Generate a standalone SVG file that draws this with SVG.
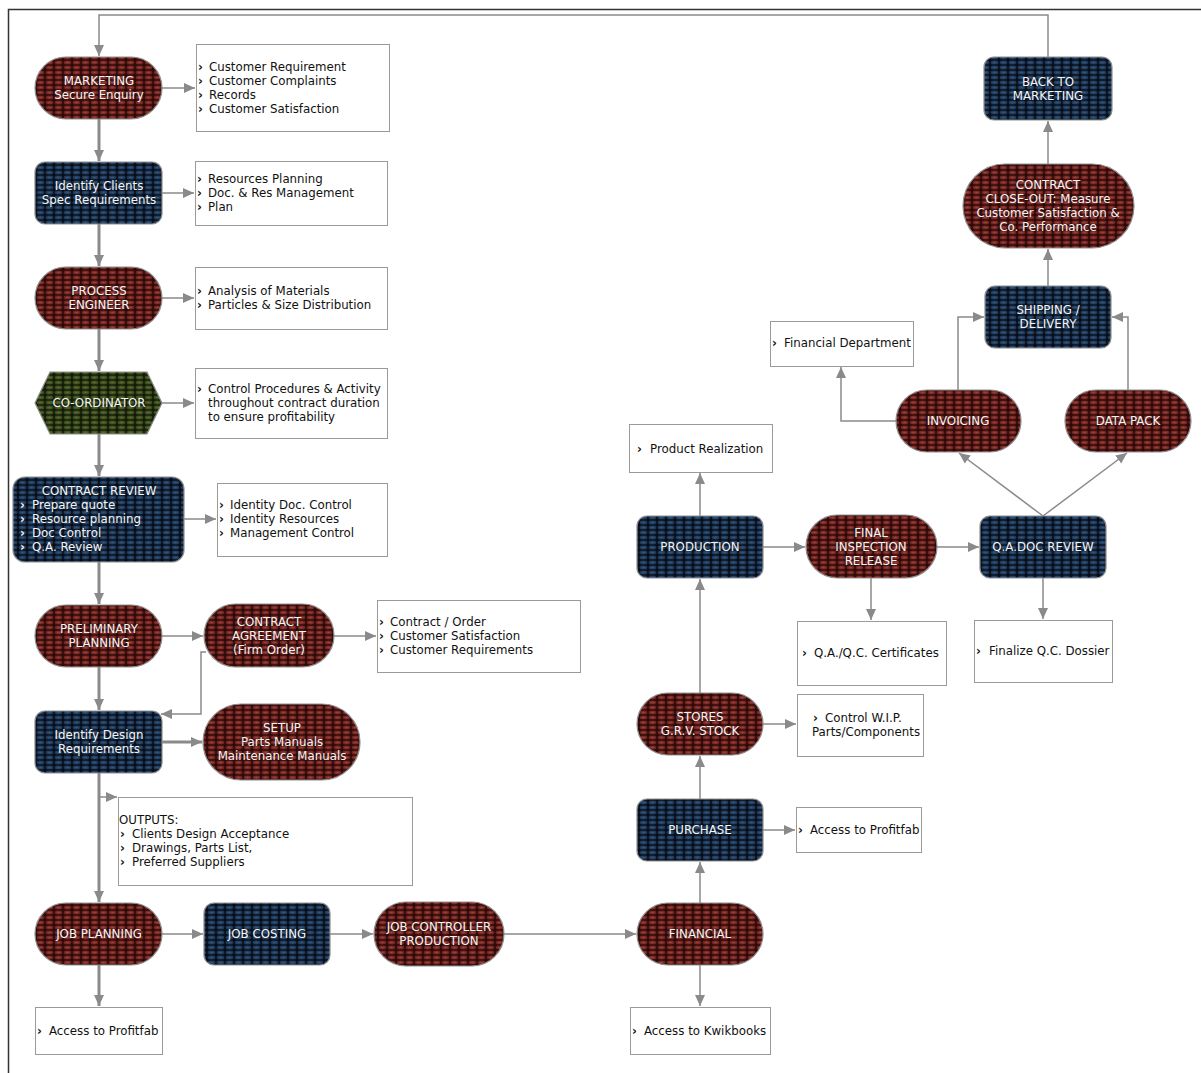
<svg xmlns="http://www.w3.org/2000/svg" width="1201" height="1073" viewBox="0 0 1201 1073">
<defs>
<style>
text{font-family:"DejaVu Sans","Verdana",sans-serif;font-size:11.8px}
.nt{fill:#f4f4f4;text-anchor:middle}
.nl{fill:#f4f4f4}
.bt{fill:#111}
.b{font-weight:bold}
.box{fill:#fff;stroke:#9a9a9a;stroke-width:1}
.red{fill:url(#pRed);stroke:#8f8f8f;stroke-width:1.2}
.blue{fill:url(#pBlue);stroke:#8f8f8f;stroke-width:1.2}
.green{fill:url(#pGreen);stroke:#8f8f8f;stroke-width:1.2}
.c{fill:none;stroke:#8a8a8a;stroke-width:1.5}
.ck{fill:none;stroke:#8a8a8a;stroke-width:3}
.a{marker-end:url(#arr)}
</style>
<marker id="arr" markerUnits="userSpaceOnUse" markerWidth="12" markerHeight="12" viewBox="0 0 12 12" refX="11" refY="6" orient="auto">
<path d="M0,1 L11,6 L0,11 Z" fill="#8a8a8a"/>
</marker>
<radialGradient id="gRed" cx="0.5" cy="0.5" r="0.6">
<stop offset="0" stop-color="#a0423b"/><stop offset="1" stop-color="#561714"/>
</radialGradient>
<radialGradient id="gBlue" cx="0.5" cy="0.5" r="0.6">
<stop offset="0" stop-color="#34577f"/><stop offset="1" stop-color="#162a44"/>
</radialGradient>
<radialGradient id="gGreen" cx="0.5" cy="0.5" r="0.6">
<stop offset="0" stop-color="#5a7030"/><stop offset="1" stop-color="#2c3a16"/>
</radialGradient>
<pattern id="pRed" patternUnits="userSpaceOnUse" width="9" height="5">
<rect width="9" height="5" fill="#2c0a09"/>
<rect x="0.6" y="0.6" width="7.8" height="3.8" rx="1.6" fill="url(#gRed)"/>
</pattern>
<pattern id="pBlue" patternUnits="userSpaceOnUse" width="9" height="5">
<rect width="9" height="5" fill="#070e1a"/>
<rect x="0.6" y="0.6" width="7.8" height="3.8" rx="1.6" fill="url(#gBlue)"/>
</pattern>
<pattern id="pGreen" patternUnits="userSpaceOnUse" width="9" height="5">
<rect width="9" height="5" fill="#141a08"/>
<rect x="0.6" y="0.6" width="7.8" height="3.8" rx="1.6" fill="url(#gGreen)"/>
</pattern>
</defs>
<rect width="1201" height="1073" fill="#fff"/>
<path d="M8.5,1073 V9.5 H1201" fill="none" stroke="#333" stroke-width="1.5"/>

<g id="connectors">
<path class="c a" d="M1048,57 V15 H99 V56"/>
<path class="c a" d="M162,88 H195"/>
<path class="ck a" d="M99,119 V161"/>
<path class="c a" d="M162,193 H194"/>
<path class="ck a" d="M99,224 V266"/>
<path class="c a" d="M162,298 H194"/>
<path class="ck a" d="M99,329 V371"/>
<path class="c a" d="M162,403 H194"/>
<path class="ck a" d="M99,434 V476"/>
<path class="c a" d="M184,519 H216"/>
<path class="ck a" d="M99,562 V604"/>
<path class="c a" d="M162,636 H203"/>
<path class="c a" d="M334,636 H376"/>
<path class="c a" d="M206,652 H201 V714 H161"/>
<path class="ck a" d="M99,667 V710"/>
<path class="ck a" d="M162,742 H202"/>
<path class="ck a" d="M99,773 V902"/>
<path class="c a" d="M99,797 H117"/>
<path class="ck a" d="M99,965 V1006"/>
<path class="c a" d="M162,934 H203"/>
<path class="c a" d="M330,934 H373"/>
<path class="c a" d="M504,934 H636"/>
<path class="c a" d="M700,965 V1006"/>
<path class="c a" d="M700,903 V862"/>
<path class="c a" d="M763,830 H795"/>
<path class="c a" d="M700,799 V756"/>
<path class="c a" d="M763,724 H796"/>
<path class="c a" d="M700,693 V579"/>
<path class="c a" d="M700,516 V473"/>
<path class="c a" d="M763,547 H805"/>
<path class="c a" d="M871,578 V620"/>
<path class="c a" d="M937,547 H979"/>
<path class="c a" d="M1043,578 V619"/>
<path class="c a" d="M1043,516 L959,453"/>
<path class="c a" d="M1043,516 L1127,453"/>
<path class="c a" d="M896,421 H841 V367"/>
<path class="c a" d="M958,390 V317 H984"/>
<path class="c a" d="M1128,390 V317 H1112"/>
<path class="c a" d="M1048,286 V249"/>
<path class="c a" d="M1048,164 V121"/>
</g>

<g id="marketing"><rect class="red" x="35" y="57" width="127" height="62" rx="31"/>
<text class="nt" x="99" y="85">MARKETING</text><text class="nt" x="99" y="99">Secure Enquiry</text></g>
<g id="box-marketing"><rect class="box" x="196.5" y="44.5" width="193" height="87"/>
<text class="bt" x="198" y="71"><tspan class="b">›</tspan><tspan x="209">Customer Requirement</tspan></text>
<text class="bt" x="198" y="85"><tspan class="b">›</tspan><tspan x="209">Customer Complaints</tspan></text>
<text class="bt" x="198" y="99"><tspan class="b">›</tspan><tspan x="209">Records</tspan></text>
<text class="bt" x="198" y="113"><tspan class="b">›</tspan><tspan x="209">Customer Satisfaction</tspan></text></g>

<g id="identify-clients"><rect class="blue" x="35" y="162" width="127" height="62" rx="10"/>
<text class="nt" x="99" y="190">Identify Clients</text><text class="nt" x="99" y="204">Spec Requirements</text></g>
<g id="box-identify-clients"><rect class="box" x="195.5" y="161.5" width="192" height="64"/>
<text class="bt" x="197" y="183"><tspan class="b">›</tspan><tspan x="208">Resources Planning</tspan></text>
<text class="bt" x="197" y="197"><tspan class="b">›</tspan><tspan x="208">Doc. &amp; Res Management</tspan></text>
<text class="bt" x="197" y="211"><tspan class="b">›</tspan><tspan x="208">Plan</tspan></text></g>

<g id="process-engineer"><rect class="red" x="35" y="267" width="127" height="62" rx="31"/>
<text class="nt" x="99" y="295">PROCESS</text><text class="nt" x="99" y="309">ENGINEER</text></g>
<g id="box-process"><rect class="box" x="195.5" y="267.5" width="192" height="62"/>
<text class="bt" x="197" y="295"><tspan class="b">›</tspan><tspan x="208">Analysis of Materials</tspan></text>
<text class="bt" x="197" y="309"><tspan class="b">›</tspan><tspan x="208">Particles &amp; Size Distribution</tspan></text></g>

<g id="coordinator"><polygon class="green" points="35,403 50,372 147,372 162,403 147,434 50,434"/>
<text class="nt" x="99" y="407">CO-ORDINATOR</text></g>
<g id="box-coordinator"><rect class="box" x="195.5" y="368.5" width="192" height="70"/>
<text class="bt" x="197" y="393"><tspan class="b">›</tspan><tspan x="208">Control Procedures &amp; Activity</tspan></text>
<text class="bt" x="208" y="407">throughout contract duration</text>
<text class="bt" x="208" y="421">to ensure profitability</text></g>

<g id="contract-review"><rect class="blue" x="13" y="477" width="171" height="85" rx="12"/>
<text class="nt" x="99" y="495">CONTRACT REVIEW</text>
<text class="nl" x="20" y="509"><tspan class="b">›</tspan><tspan x="32">Prepare quote</tspan></text>
<text class="nl" x="20" y="523"><tspan class="b">›</tspan><tspan x="32">Resource planning</tspan></text>
<text class="nl" x="20" y="537"><tspan class="b">›</tspan><tspan x="32">Doc Control</tspan></text>
<text class="nl" x="20" y="551"><tspan class="b">›</tspan><tspan x="32">Q.A. Review</tspan></text></g>
<g id="box-contract-review"><rect class="box" x="217.5" y="483.5" width="170" height="73"/>
<text class="bt" x="219" y="509"><tspan class="b">›</tspan><tspan x="230">Identity Doc. Control</tspan></text>
<text class="bt" x="219" y="523"><tspan class="b">›</tspan><tspan x="230">Identity Resources</tspan></text>
<text class="bt" x="219" y="537"><tspan class="b">›</tspan><tspan x="230">Management Control</tspan></text></g>

<g id="preliminary-planning"><rect class="red" x="35" y="605" width="127" height="62" rx="31"/>
<text class="nt" x="99" y="633">PRELIMINARY</text><text class="nt" x="99" y="647">PLANNING</text></g>

<g id="contract-agreement"><rect class="red" x="204" y="604" width="130" height="63" rx="31.5"/>
<text class="nt" x="269" y="626">CONTRACT</text><text class="nt" x="269" y="640">AGREEMENT</text><text class="nt" x="269" y="654">(Firm Order)</text></g>
<g id="box-contract-agreement"><rect class="box" x="377.5" y="600.5" width="203" height="72"/>
<text class="bt" x="379" y="626"><tspan class="b">›</tspan><tspan x="390">Contract / Order</tspan></text>
<text class="bt" x="379" y="640"><tspan class="b">›</tspan><tspan x="390">Customer Satisfaction</tspan></text>
<text class="bt" x="379" y="654"><tspan class="b">›</tspan><tspan x="390">Customer Requirements</tspan></text></g>

<g id="identify-design"><rect class="blue" x="35" y="711" width="127" height="62" rx="10"/>
<text class="nt" x="99" y="739">Identify Design</text><text class="nt" x="99" y="753">Requirements</text></g>

<g id="setup"><rect class="red" x="203" y="704" width="157" height="76" rx="38"/>
<text class="nt" x="282" y="732">SETUP</text><text class="nt" x="282" y="746">Parts Manuals</text><text class="nt" x="282" y="760">Maintenance Manuals</text></g>

<g id="box-outputs"><rect class="box" x="118.5" y="797.5" width="294" height="88"/>
<text class="bt" x="119" y="824">OUTPUTS:</text>
<text class="bt" x="120" y="838"><tspan class="b">›</tspan><tspan x="132">Clients Design Acceptance</tspan></text>
<text class="bt" x="120" y="852"><tspan class="b">›</tspan><tspan x="132">Drawings, Parts List,</tspan></text>
<text class="bt" x="120" y="866"><tspan class="b">›</tspan><tspan x="132">Preferred Suppliers</tspan></text></g>

<g id="job-planning"><rect class="red" x="35" y="903" width="127" height="62" rx="31"/>
<text class="nt" x="99" y="938">JOB PLANNING</text></g>
<g id="box-job-planning"><rect class="box" x="35.5" y="1007.5" width="127" height="47"/>
<text class="bt" x="37" y="1035"><tspan class="b">›</tspan><tspan x="49">Access to Profitfab</tspan></text></g>

<g id="job-costing"><rect class="blue" x="204" y="903" width="126" height="62" rx="10"/>
<text class="nt" x="267" y="938">JOB COSTING</text></g>

<g id="job-controller"><rect class="red" x="374" y="902" width="130" height="64" rx="32"/>
<text class="nt" x="439" y="931">JOB CONTROLLER</text><text class="nt" x="439" y="945">PRODUCTION</text></g>

<g id="financial"><rect class="red" x="637" y="903" width="126" height="62" rx="31"/>
<text class="nt" x="700" y="938">FINANCIAL</text></g>
<g id="box-financial"><rect class="box" x="630.5" y="1007.5" width="140" height="47"/>
<text class="bt" x="632" y="1035"><tspan class="b">›</tspan><tspan x="644">Access to Kwikbooks</tspan></text></g>

<g id="purchase"><rect class="blue" x="637" y="799" width="126" height="62" rx="10"/>
<text class="nt" x="700" y="834">PURCHASE</text></g>
<g id="box-purchase"><rect class="box" x="796.5" y="807.5" width="125" height="45"/>
<text class="bt" x="798" y="834"><tspan class="b">›</tspan><tspan x="810">Access to Profitfab</tspan></text></g>

<g id="stores"><rect class="red" x="637" y="693" width="126" height="62" rx="31"/>
<text class="nt" x="700" y="721">STORES</text><text class="nt" x="700" y="735">G.R.V. STOCK</text></g>
<g id="box-stores"><rect class="box" x="797.5" y="694.5" width="126" height="62"/>
<text class="bt" x="813" y="722"><tspan class="b">›</tspan><tspan x="825">Control W.I.P.</tspan></text>
<text class="bt" x="812" y="736">Parts/Components</text></g>

<g id="production"><rect class="blue" x="637" y="516" width="126" height="62" rx="10"/>
<text class="nt" x="700" y="551">PRODUCTION</text></g>
<g id="box-production"><rect class="box" x="629.5" y="424.5" width="143" height="48"/>
<text class="bt" x="637" y="453"><tspan class="b">›</tspan><tspan x="650">Product Realization</tspan></text></g>

<g id="final-inspection"><rect class="red" x="806" y="515" width="131" height="63" rx="31.5"/>
<text class="nt" x="871" y="537">FINAL</text><text class="nt" x="871" y="551">INSPECTION</text><text class="nt" x="871" y="565">RELEASE</text></g>
<g id="box-final"><rect class="box" x="797.5" y="621.5" width="149" height="64"/>
<text class="bt" x="802" y="657"><tspan class="b">›</tspan><tspan x="814">Q.A./Q.C. Certificates</tspan></text></g>

<g id="qa-doc-review"><rect class="blue" x="980" y="516" width="126" height="62" rx="10"/>
<text class="nt" x="1043" y="551">Q.A.DOC REVIEW</text></g>
<g id="box-qa"><rect class="box" x="974.5" y="620.5" width="138" height="62"/>
<text class="bt" x="976" y="655"><tspan class="b">›</tspan><tspan x="989">Finalize Q.C. Dossier</tspan></text></g>

<g id="invoicing"><rect class="red" x="896" y="390" width="125" height="62" rx="31"/>
<text class="nt" x="958" y="425">INVOICING</text></g>
<g id="box-invoicing"><rect class="box" x="770.5" y="321.5" width="143" height="45"/>
<text class="bt" x="772" y="347"><tspan class="b">›</tspan><tspan x="784">Financial Department</tspan></text></g>

<g id="data-pack"><rect class="red" x="1065" y="390" width="126" height="62" rx="31"/>
<text class="nt" x="1128" y="425">DATA PACK</text></g>

<g id="shipping"><rect class="blue" x="985" y="286" width="126" height="62" rx="10"/>
<text class="nt" x="1048" y="314">SHIPPING /</text><text class="nt" x="1048" y="328">DELIVERY</text></g>

<g id="close-out"><rect class="red" x="963" y="164" width="171" height="84" rx="42"/>
<text class="nt" x="1048" y="189">CONTRACT</text><text class="nt" x="1048" y="203">CLOSE-OUT: Measure</text><text class="nt" x="1048" y="217">Customer Satisfaction &amp;</text><text class="nt" x="1048" y="231">Co. Performance</text></g>

<g id="back-to-marketing"><rect class="blue" x="984" y="57" width="128" height="63" rx="10"/>
<text class="nt" x="1048" y="86">BACK TO</text><text class="nt" x="1048" y="100">MARKETING</text></g>
</svg>
